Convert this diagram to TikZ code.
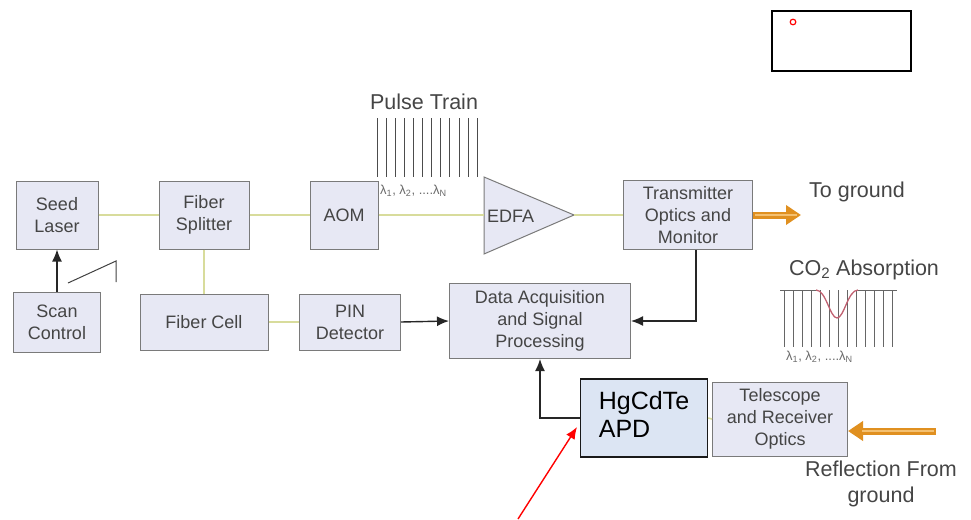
\documentclass[tikz,border=0pt]{standalone}
\usepackage{fontspec}
\setmainfont{Liberation Sans}
\usetikzlibrary{arrows.meta,calc}
\definecolor{boxfill}{HTML}{E7E8F4}
\definecolor{boxline}{HTML}{7A7A7A}
\definecolor{txt}{HTML}{454545}
\definecolor{fiber}{HTML}{D8DC9C}
\definecolor{apdfill}{HTML}{DCE5F3}
\definecolor{beam}{HTML}{E09020}
\definecolor{beamin}{HTML}{F4C070}
\definecolor{dip}{HTML}{C06070}
\tikzset{
  blk/.style={draw=boxline, fill=boxfill, line width=1pt, text=txt, align=center,
    font=\fontsize{18}{22}\selectfont, inner sep=0pt},
  fib/.style={draw=fiber, line width=1.6pt},
  sig/.style={draw=black!85, line width=1.4pt, -{Latex[length=12pt,width=10pt]}},
  lab/.style={text=txt, font=\fontsize{21.5}{26}\selectfont, inner sep=0pt},
  pulse/.style={draw=black!70, line width=0.8pt},
  lam/.style={text=txt!80, font=\fontsize{13}{15}\selectfont, inner sep=0pt},
  fat/.style={draw=beam, line width=7pt, -{Triangle[length=15pt,width=19pt]}},
  fatin/.style={draw=beamin, line width=2.5pt}
}
\begin{document}
\begin{tikzpicture}[x=1pt,y=-1pt]
\useasboundingbox (0,0) rectangle (971,519);

% blocks of the transmitter chain
\node[blk, minimum width=82pt, minimum height=68pt] (seed) at (57,215) {Seed\\Laser};
\node[blk, minimum width=90pt, minimum height=68pt] (split) at (204,215) {Fiber\\Splitter};
\node[blk, minimum width=68pt, minimum height=68pt] (aom) at (344,215) {AOM};
\path[draw=boxline, fill=boxfill, line width=1pt] (484,177) -- (574,215) -- (484,254) -- cycle;
\coordinate (edfain) at (484,215);
\coordinate (edfaapex) at (574,215);
\node[text=txt, font=\fontsize{18}{22}\selectfont, anchor=west, inner sep=0pt] (edfalab) at (487,216) {EDFA};
\node[blk, minimum width=129pt, minimum height=69pt] (tx) at (688,215) {Transmitter\\Optics and\\Monitor};

% lower row
\node[blk, minimum width=87pt, minimum height=60pt] (scan) at (57,322) {Scan\\Control};
\node[blk, minimum width=128pt, minimum height=56pt] (cell) at (204,322) {Fiber Cell};
\node[blk, minimum width=101pt, minimum height=56pt] (pin) at (350,322) {PIN\\Detector};
\node[blk, minimum width=181pt, minimum height=75pt] (daq) at (540,321) {Data Acquisition\\and Signal\\Processing};
\node[draw=black!90, fill=apdfill, line width=1.3pt, minimum width=127pt, minimum height=78pt,
  font=\fontsize{25}{28}\selectfont, align=left, text=black, inner sep=0pt] (apd) at (644,418)
  {\begin{tabular}{@{}l@{}}HgCdTe\\APD\end{tabular}};
\node[blk, minimum width=135pt, minimum height=74pt] (tel) at (780,419) {Telescope\\and Receiver\\Optics};

% fibre links
\draw[fib] (seed.east) -- (split.west);
\draw[fib] (split.east) -- (aom.west);
\draw[fib] (aom.east) -- (edfain);
\draw[fib] (edfaapex) -- (tx.west);
\draw[fib] (split.south) -- (cell.north);
\draw[fib] (cell.east) -- (pin.west);
\draw[fib] (apd.east) -- (tel.west);

% electrical signals
\draw[sig] (scan.north) -- (seed.south);
\draw[sig] (pin.east) -- (daq.west);
\draw[sig] (tx.south -| 696,0) |- (daq.east);
\draw[sig] (apd.west) -| (daq.south);

% sawtooth of the scan
\draw[draw=black!75, line width=1pt] (68,283) -- (116,261) -- (116,282);

% optical beams
\coordinate (bout) at (801,215);
\coordinate (bin) at (936,431);
\coordinate (bend) at (tel.east |- bin);
\draw[fat] (tx.east) -- (bout);
\draw[fatin] ($(tx.east)+(2,0)$) -- ($(bout)+(-4,0)$);
\draw[fat] (bin) -- (bend);
\draw[fatin] ($(bin)+(-2,0)$) -- ($(bend)+(14,0)$);
\node[lab, anchor=west] (toground) at (809,192) {To ground};
\node[lab, align=center] (refl) at (881,484) {Reflection From\\ground};

% pulse train
\node[lab] (ptitle) at (424,102) {Pulse Train};
\foreach \i in {0,...,11} {
  \draw[pulse] ({377+\i*9.1},118) -- ({377+\i*9.1},177);
}
\node[lam, anchor=west] (plam) at (380,191) {λ\textsubscript{1}, λ\textsubscript{2}, ....λ\textsubscript{N}};

% CO2 absorption spectrum
\node[lab] (co2) at (864,270) {CO\textsubscript{2} Absorption};
\foreach \i in {0,...,12} {
  \draw[pulse, draw=black!60] ({784+\i*9},290) -- ({784+\i*9},347);
}
\draw[draw=black!60, line width=1pt] (780,290) -- (816,290);
\draw[draw=black!60, line width=1pt] (858,290) -- (897,290);
\draw[draw=dip, line width=1.3pt] (816,290)
  .. controls (826,290) and (830,318) .. (837,318)
  .. controls (844,318) and (848,290) .. (858,290);
\node[lam, anchor=west] (clam) at (786,357) {λ\textsubscript{1}, λ\textsubscript{2}, ....λ\textsubscript{N}};

% marker box and pointer
\node[draw=black, line width=1.5pt, minimum width=139pt, minimum height=60pt, inner sep=0pt] (mark) at (841.5,41) {};
\draw[red, line width=1.2pt] (793,22) circle (2.8pt);
\coordinate (ptr) at (518,519);
\draw[red, line width=1.4pt, -{Latex[length=12pt,width=10pt]}] (ptr) -- (577,427);
\end{tikzpicture}
\end{document}
